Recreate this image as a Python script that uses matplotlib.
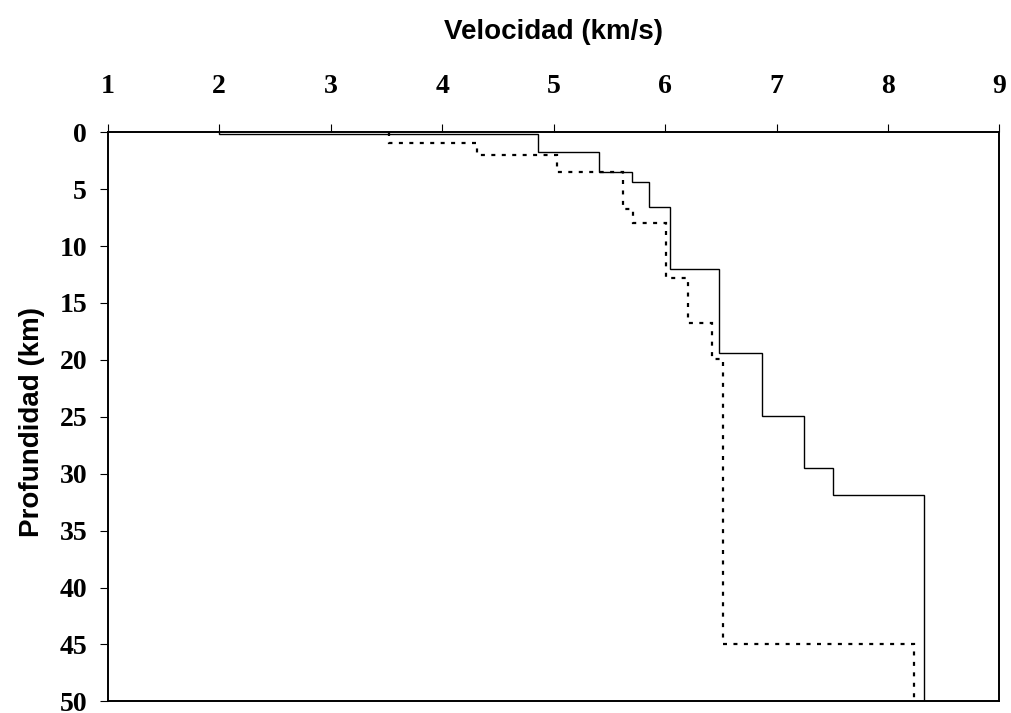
import matplotlib
matplotlib.use("Agg")
import matplotlib.pyplot as plt
import numpy as np

# Solid model: layer velocities (km/s) and layer boundary depths (km)
solid_vel = [2.0, 4.86, 5.41, 5.70, 5.86, 6.04, 6.48, 6.87, 7.25, 7.51, 8.32]
solid_depth = [0, 0.15, 1.7, 3.5, 4.4, 6.6, 12.0, 19.35, 24.9, 29.5, 31.9, 50]

# Dotted model
dot_vel = [3.52, 4.31, 5.03, 5.62, 5.71, 6.01, 6.21, 6.42, 6.52, 8.23]
dot_depth = [0, 0.93, 1.97, 3.46, 6.75, 8.0, 12.8, 16.8, 19.9, 45.0, 50]

x_ticks = [1, 2, 3, 4, 5, 6, 7, 8, 9]
y_ticks = [0, 5, 10, 15, 20, 25, 30, 35, 40, 45, 50]

fig = plt.figure(figsize=(10.11, 7.13), dpi=100)
W, H = 1011, 713
left, right, top, bottom = 107.7, 999.5, 132.3, 701.3
ax = fig.add_axes([left / W, 1 - bottom / H, (right - left) / W, (bottom - top) / H])

ax.stairs(solid_vel, solid_depth, orientation='horizontal', baseline=None,
          color='black', lw=1.0)
ax.stairs(dot_vel, dot_depth, orientation='horizontal', baseline=None,
          color='black', lw=1.6, linestyle=(0, (1.8, 2.9)))

ax.set_xlim(1, 9)
ax.set_ylim(50, 0)
ax.set_xticks(x_ticks)
ax.set_yticks(y_ticks)

ax.xaxis.tick_top()
ax.xaxis.set_label_position('top')
for s in ax.spines.values():
    s.set_linewidth(1.4)
    s.set_color('black')

serif = {'family': 'Liberation Serif', 'weight': 'bold', 'size': 20}
ax.set_xticklabels([str(v) for v in x_ticks], fontdict=serif)
ax.set_yticklabels([str(v) for v in y_ticks], fontdict=serif)
ax.tick_params(axis='x', direction='out', length=5.8, width=0.8, pad=18, top=True, bottom=False)
ax.tick_params(axis='y', direction='out', length=5.8, width=0.8, pad=9, left=True, right=False)

sans = {'family': 'Liberation Sans', 'weight': 'bold', 'size': 20}
ax.set_xlabel('Velocidad (km/s)', fontdict=sans)
ax.xaxis.set_label_coords(0.5, 1 + (top - 39) / (bottom - top))
ax.set_ylabel('Profundidad (km)', fontdict=sans)
ax.yaxis.set_label_coords((45 - left) / (right - left), 0.49)

fig.savefig('out.png', dpi=100)
